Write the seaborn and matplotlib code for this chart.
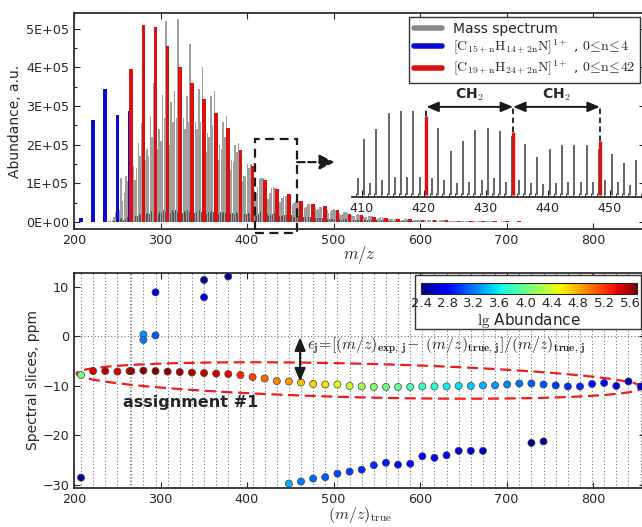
#!/usr/bin/env python3
import numpy as np
import pandas as pd
import matplotlib
matplotlib.use('Agg')
import matplotlib.pyplot as plt
import seaborn as sns
from matplotlib.colors import Normalize
from matplotlib.lines import Line2D
from matplotlib.patches import Rectangle
from matplotlib.ticker import FuncFormatter, MultipleLocator

# ---- data (abundances in units of 1E+05 a.u.) ----
blue_mz = [208.1, 222.1, 236.1, 250.2, 264.2]
blue_int = [0.10, 2.65, 3.43, 2.76, 2.87]

red_mz = [266.2, 280.2, 294.2, 308.2, 322.2, 336.3, 350.3, 364.3, 378.3, 392.3,
          406.4, 420.4, 434.4, 448.4, 462.4, 476.4, 490.4, 504.5, 518.5, 532.5,
          546.5, 560.5, 574.5, 588.6, 602.6, 616.6, 630.6, 644.6, 658.6, 672.7,
          686.7, 700.7, 714.7, 728.7, 742.7, 756.8, 770.8, 784.8, 798.8, 812.8,
          826.8, 840.9, 854.9]
red_int = [3.97, 5.11, 5.05, 4.56, 4.02, 3.60, 3.18, 2.83, 2.44, 1.86,
           1.45, 1.08, 0.86, 0.73, 0.54, 0.46, 0.42, 0.30, 0.22, 0.17,
           0.13, 0.10, 0.09, 0.07, 0.06, 0.05, 0.04, 0.035, 0.03, 0.025,
           0.02, 0.018, 0.015, 0.013, 0.012, 0.010, 0.009, 0.008, 0.007, 0.006,
           0.005, 0.004, 0.004]

# rest of the spectrum, even nominal masses 240..700 (one row per CH2 step)
gray_even = [
    [0.02, 0.03, 0.06, 0.12, 0.25, 0.45, 0.30],
    [1.15, 0.55, 0.75, 1.20, 1.05, 1.60, 1.20],
    [1.45, 1.10, 1.40, 2.05, 1.70, 2.55, 2.00],
    [1.60, 1.90, 1.70, 2.75, 2.20, 3.60, 2.80],
    [1.90, 2.40, 2.10, 3.30, 2.70, 5.20, 3.50],
    [2.00, 3.10, 2.60, 3.40, 2.70, 5.25, 3.60],
    [2.10, 2.70, 2.40, 3.25, 2.60, 4.60, 3.30],
    [2.00, 2.60, 2.40, 3.45, 2.60, 4.00, 3.00],
    [1.80, 2.30, 2.20, 3.25, 2.50, 3.40, 2.70],
    [1.60, 2.00, 1.90, 2.60, 2.20, 2.75, 2.30],
    [1.35, 1.60, 1.55, 2.00, 1.80, 2.05, 1.80],
    [1.05, 1.20, 1.20, 1.50, 1.40, 1.50, 1.35],
    [0.85, 0.76, 0.90, 1.12, 1.14, 1.14, 1.00],
    [0.91, 0.60, 0.74, 0.89, 0.91, 0.87, 0.80],
    [0.69, 0.52, 0.63, 0.68, 0.68, 0.68, 0.62],
    [0.56, 0.44, 0.48, 0.55, 0.56, 0.55, 0.50],
    [0.45, 0.36, 0.40, 0.46, 0.47, 0.46, 0.42],
    [0.38, 0.30, 0.33, 0.39, 0.40, 0.38, 0.35],
    [0.31, 0.24, 0.27, 0.32, 0.33, 0.31, 0.28],
    [0.24, 0.19, 0.21, 0.25, 0.26, 0.24, 0.22],
    [0.19, 0.15, 0.16, 0.19, 0.20, 0.19, 0.17],
    [0.15, 0.12, 0.13, 0.15, 0.15, 0.15, 0.13],
    [0.12, 0.09, 0.10, 0.12, 0.12, 0.11, 0.10],
    [0.09, 0.07, 0.08, 0.09, 0.09, 0.09, 0.08],
    [0.07, 0.06, 0.06, 0.07, 0.07, 0.07, 0.06],
    [0.06, 0.05, 0.05, 0.06, 0.06, 0.06, 0.05],
    [0.05, 0.04, 0.04, 0.05, 0.05, 0.05, 0.04],
    [0.04, 0.03, 0.04, 0.04, 0.04, 0.04, 0.04],
    [0.03, 0.03, 0.03, 0.03, 0.03, 0.03, 0.03],
    [0.03, 0.02, 0.02, 0.03, 0.03, 0.03, 0.02],
    [0.02, 0.02, 0.02, 0.02, 0.02, 0.02, 0.02],
    [0.02, 0.015, 0.015, 0.02, 0.02, 0.02, 0.015],
    [0.015, 0.01, 0.01, 0.015, 0.015, 0.015, 0.01],
]
# odd nominal masses 241..603
gray_odd = [
    [0.01, 0.01, 0.02, 0.03, 0.05, 0.05, 0.08],
    [0.10, 0.06, 0.08, 0.12, 0.10, 0.15, 0.18],
    [0.14, 0.16, 0.15, 0.22, 0.18, 0.26, 0.30],
    [0.20, 0.24, 0.22, 0.28, 0.24, 0.32, 0.30],
    [0.22, 0.27, 0.24, 0.30, 0.26, 0.34, 0.32],
    [0.24, 0.30, 0.26, 0.31, 0.26, 0.35, 0.33],
    [0.24, 0.28, 0.25, 0.30, 0.26, 0.34, 0.31],
    [0.23, 0.27, 0.25, 0.30, 0.26, 0.32, 0.30],
    [0.22, 0.26, 0.24, 0.29, 0.25, 0.30, 0.28],
    [0.21, 0.25, 0.23, 0.27, 0.24, 0.28, 0.26],
    [0.20, 0.23, 0.22, 0.25, 0.23, 0.26, 0.24],
    [0.19, 0.21, 0.20, 0.23, 0.22, 0.24, 0.22],
    [0.23, 0.16, 0.20, 0.25, 0.25, 0.25, 0.23],
    [0.20, 0.16, 0.18, 0.20, 0.23, 0.18, 0.20],
    [0.16, 0.15, 0.16, 0.18, 0.18, 0.18, 0.20],
    [0.18, 0.14, 0.14, 0.15, 0.15, 0.15, 0.14],
    [0.13, 0.12, 0.12, 0.13, 0.13, 0.13, 0.12],
    [0.11, 0.10, 0.10, 0.11, 0.11, 0.11, 0.10],
    [0.09, 0.08, 0.08, 0.09, 0.09, 0.09, 0.08],
    [0.07, 0.06, 0.07, 0.07, 0.07, 0.07, 0.06],
    [0.06, 0.05, 0.05, 0.06, 0.06, 0.06, 0.05],
    [0.05, 0.04, 0.04, 0.05, 0.05, 0.05, 0.04],
    [0.04, 0.035, 0.035, 0.04, 0.04, 0.04, 0.035],
    [0.035, 0.03, 0.03, 0.035, 0.035, 0.035, 0.03],
    [0.03, 0.025, 0.025, 0.03, 0.03, 0.03, 0.025],
    [0.025, 0.02, 0.02, 0.025, 0.025, 0.025, 0.02],
]

# assignment #1 errors (blue series then red series), ppm
assign_ppm = [-7.8, -7.0, -7.0, -7.1, -7.0,
              -7.0, -6.9, -7.0, -7.1, -7.2, -7.3, -7.4, -7.5, -7.6, -7.8,
              -8.2, -8.5, -9.0, -9.1, -9.3, -9.6, -9.7, -9.7, -10.0, -10.1,
              -10.2, -10.2, -10.2, -10.2, -10.1, -10.1, -10.1, -10.0, -10.0, -9.9,
              -9.9, -9.7, -9.5, -9.5, -9.7, -9.9, -10.1, -10.1, -9.6, -9.4,
              -10.0, -9.1, -10.1]

# other points in the spectral slices
other_mz = [208.1, 280.2, 280.2, 294.2, 294.2, 350.3, 350.3, 378.3,
            448.4, 462.4, 476.4, 490.4, 504.5, 518.5, 532.5, 546.5, 560.5,
            574.5, 588.6, 602.6, 616.6, 630.6, 644.6, 658.6, 672.7,
            728.7, 742.7]
other_ppm = [-28.5, 0.4, -0.7, 0.2, 8.9, 11.4, 7.9, 12.1,
             -29.7, -29.3, -28.7, -28.4, -27.7, -27.3, -26.9, -26.0, -25.5,
             -25.9, -25.7, -24.2, -24.5, -24.0, -23.1, -23.1, -23.1,
             -21.5, -21.2]
other_lg = [2.5, 3.3, 3.2, 3.1, 2.7, 2.45, 2.7, 2.45,
            3.4, 3.2, 3.15, 3.1, 3.05, 3.0, 2.95, 2.95, 2.9,
            2.85, 2.85, 2.8, 2.75, 2.75, 2.7, 2.65, 2.6,
            2.45, 2.45]

lg_ticks = [2.4, 2.8, 3.2, 3.6, 4.0, 4.4, 4.8, 5.2, 5.6]

# ---- style ----
sns.set_theme(style='ticks')
plt.rcParams['font.family'] = ['DejaVu Sans']
plt.rcParams['mathtext.fontset'] = 'cm'
plt.rcParams['xtick.direction'] = 'in'
plt.rcParams['ytick.direction'] = 'in'
plt.rcParams['xtick.labelsize'] = 9.2
plt.rcParams['ytick.labelsize'] = 9.2
plt.rcParams['axes.edgecolor'] = '0.15'

GRAY = '#a0a0a0'
DARK = '#555555'
BLUE = '#0a0ad2'
RED = '#dd1010'
SC = 1e5
JET = matplotlib.colormaps['jet']

even_mz = np.arange(240, 701, 2) + 0.3
odd_mz = np.arange(241, 604, 2) + 0.3
even_int = np.ravel(gray_even) * SC
odd_int = np.ravel(gray_odd) * SC

fig = plt.figure(figsize=(6.42, 5.27), dpi=100)
ax1 = fig.add_axes([0.1153, 0.5655, 0.8894, 0.4099])
ax2 = fig.add_axes([0.1153, 0.0740, 0.8894, 0.4080])

# ---- top: mass spectrum ----
ax1.bar(even_mz, even_int, width=1.75, color=GRAY, lw=0)
ax1.bar(odd_mz, odd_int, width=1.1, color=DARK, lw=0)
ax1.bar(blue_mz, np.array(blue_int) * SC, width=4.2, color=BLUE, lw=0)
ax1.bar(red_mz, np.array(red_int) * SC, width=4.2, color=RED, lw=0)
ax1.set_xlim(200, 860)
ax1.set_ylim(-1.8e4, 5.41e5)
ax1.yaxis.set_major_formatter(FuncFormatter(lambda v, p: '%.0E' % v))
ax1.yaxis.set_major_locator(MultipleLocator(1e5))
ax1.yaxis.set_minor_locator(MultipleLocator(5e4))
ax1.xaxis.set_major_locator(MultipleLocator(100))
ax1.tick_params(which='both', top=True, right=True, length=4, width=0.8)
ax1.tick_params(which='minor', length=2.5)
ax1.set_ylabel('Abundance, a.u.', fontsize=10, labelpad=3)
ax1.set_xlabel('$m/z$', fontsize=12)
ax1.xaxis.label.set_va('center')
ax1.xaxis.set_label_coords(0.5, -0.12)

# dashed zoom box and arrow
ax1.add_patch(Rectangle((409.2, -2.85e4), 48.6, 2.435e5, fill=False, ec='k',
                        lw=1.6, ls=(0, (4, 2.5)), clip_on=False, zorder=5))
ax1.annotate('', xy=(501, 1.55e5), xytext=(457.8, 1.55e5),
             arrowprops=dict(arrowstyle='-|>,head_length=0.6,head_width=0.3',
                             mutation_scale=15, color='k', lw=1.5, ls='--',
                             shrinkA=0, shrinkB=0))

leg_handles = [Line2D([], [], color='#888888', lw=4),
               Line2D([], [], color=BLUE, lw=4),
               Line2D([], [], color=RED, lw=4)]
leg_labels = ['Mass spectrum',
              r'$[\mathrm{C}_{15+\mathrm{n}}\mathrm{H}_{14+2\mathrm{n}}\mathrm{N}]^{1+}$ , $0\!\leq\!\mathrm{n}\!\leq\!4$',
              r'$[\mathrm{C}_{19+\mathrm{n}}\mathrm{H}_{24+2\mathrm{n}}\mathrm{N}]^{1+}$ , $0\!\leq\!\mathrm{n}\!\leq\!42$']
leg = ax1.legend(leg_handles, leg_labels, loc='upper right',
                 bbox_to_anchor=(640 / 642, 1 - 17 / 527),
                 bbox_transform=fig.transFigure, fontsize=10,
                 frameon=True, fancybox=False, framealpha=1, edgecolor='0.2',
                 handlelength=2.0, handletextpad=0.8, labelspacing=0.15,
                 borderpad=0.35, borderaxespad=0)
leg.get_frame().set_linewidth(1.0)

# inset zoom 408..456
ax_in = fig.add_axes([0.5483, 0.6262, 0.4642, 0.2068])
ax_in.set_facecolor('none')
sel_e = (even_mz > 408) & (even_mz < 457)
sel_o = (odd_mz > 408) & (odd_mz < 457)
red_arr = np.array(red_mz)
red_h = np.array(red_int) * SC
sel_r = (red_arr > 408) & (red_arr < 457)
ax_in.vlines(even_mz[sel_e], 0, even_int[sel_e], color='#4a4a4a', lw=1.2)
ax_in.vlines(odd_mz[sel_o], 0, odd_int[sel_o], color='#4a4a4a', lw=1.2)
ax_in.vlines(red_arr[sel_r], 0, red_h[sel_r], color=RED, lw=2.4)
ax_in.set_xlim(408.4, 456.5)
ax_in.set_ylim(-2.7e3, 1.457e5)
for s in ['left', 'right', 'top']:
    ax_in.spines[s].set_visible(False)
ax_in.set_yticks([])
ax_in.xaxis.set_major_locator(MultipleLocator(10))
ax_in.xaxis.set_minor_locator(MultipleLocator(1))
ax_in.tick_params(axis='x', which='major', length=5, width=0.8, top=False)
ax_in.tick_params(axis='x', which='minor', length=3, width=0.6, top=False)

y_arr = 1.2e5
rx = red_arr[sel_r]
ax_in.vlines(rx, red_h[sel_r], y_arr, color='k', lw=1.3, linestyles=(0, (3, 2)))
for a, b in zip(rx[:-1], rx[1:]):
    ax_in.annotate('', xy=(a, y_arr), xytext=(b, y_arr),
                   arrowprops=dict(arrowstyle='<|-|>,head_length=0.6,head_width=0.25',
                                   mutation_scale=12, color='k', lw=1.4,
                                   shrinkA=0, shrinkB=0))
    ax_in.text((a + b) / 2, 1.25e5, r'CH$_\mathbf{2}$', ha='center', va='bottom',
               fontsize=10, fontweight='bold')

# ---- bottom: spectral slices ----
assign_mz = blue_mz + red_mz
assign_lg = np.log10(np.array(blue_int + red_int) * SC)
df = pd.DataFrame({'mz': assign_mz + other_mz,
                   'ppm': assign_ppm + other_ppm,
                   'lg': list(assign_lg) + other_lg})

for x in assign_mz:
    ax2.axvline(x, color='0.45', lw=0.8, ls=(0, (1, 2)), zorder=0)
ax2.axhline(0, color='0.45', lw=0.8, ls=(0, (1, 2)), zorder=0)

t = np.linspace(0, 2 * np.pi, 300)
ex = 530 + 327 * np.cos(t)
ey = -8.9 + 3.4 * np.sin(t) - 0.0043 * (ex - 530)
ax2.plot(ex, ey, color='#ee1c1c', lw=1.6, ls=(0, (5, 2.5)), zorder=2)

sns.scatterplot(data=df, x='mz', y='ppm', hue='lg', palette=JET,
                hue_norm=(2.4, 5.7), s=26, edgecolor='0.25', linewidth=0.5,
                legend=False, ax=ax2, zorder=3)

ax2.set_xlim(200, 860)
ax2.set_ylim(-30.6, 12.8)
ax2.xaxis.set_major_locator(MultipleLocator(100))
ax2.yaxis.set_major_locator(MultipleLocator(10))
ax2.tick_params(which='both', top=True, right=True, length=4, width=0.8)
ax2.set_ylabel('Spectral slices, ppm', fontsize=10, labelpad=2)
ax2.set_xlabel(r'$(m/z)_{\mathrm{true}}$', fontsize=11.5)
ax2.xaxis.label.set_va('center')
ax2.xaxis.set_label_coords(0.5, -0.125)

ax2.annotate('', xy=(461.3, -0.2), xytext=(461.3, -9.1),
             arrowprops=dict(arrowstyle='<|-|>,head_length=0.6,head_width=0.25',
                             mutation_scale=13, color='k', lw=1.5,
                             shrinkA=0, shrinkB=0), zorder=4)
ax2.text(469, -2.0,
         r'$\mathbf{\epsilon}_{\mathbf{j}}\!=\![(m/z)_{\mathbf{exp,\,j}}\!-\ (m/z)_{\mathbf{true,\,j}}]/(m/z)_{\mathbf{true,\,j}}$',
         fontsize=11.4, ha='left', va='center', zorder=4)
ax2.text(256.5, -13.4, 'assignment #1', fontsize=11.5, fontweight='bold',
         ha='left', va='center', zorder=4)

# colorbar in a framed box
ax2.add_patch(Rectangle((415 / 642, (527 - 329) / 527), 226 / 642, 54 / 527,
                        transform=fig.transFigure, fc='white', ec='0.2', lw=1.0,
                        clip_on=False, zorder=10))
cax = fig.add_axes([421 / 642, (527 - 294) / 527, 216 / 642, 11 / 527])
sm = plt.cm.ScalarMappable(cmap=JET, norm=Normalize(2.4, 5.7))
cb = fig.colorbar(sm, cax=cax, orientation='horizontal', ticks=lg_ticks)
cb.ax.tick_params(labelsize=9.5, length=0, pad=2)
cb.outline.set_linewidth(0.8)
cb.set_label(r'$\mathrm{lg}$ Abundance', fontsize=11, labelpad=1)

fig.savefig('out.png', dpi=100)
